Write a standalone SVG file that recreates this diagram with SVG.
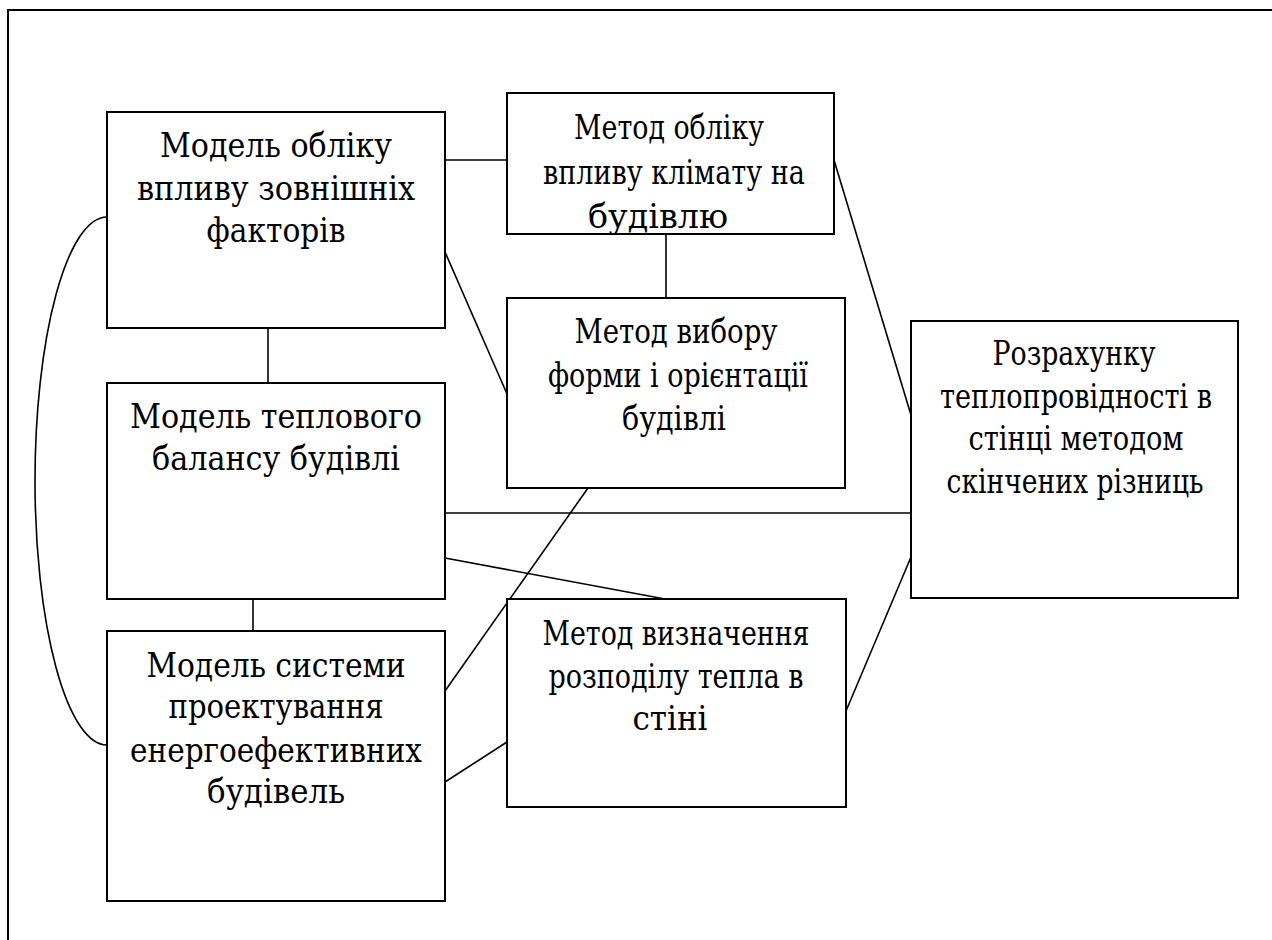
<svg xmlns="http://www.w3.org/2000/svg" width="1272" height="940" viewBox="0 0 1272 940">
  <style>
    .box { fill: #ffffff; stroke: #000000; stroke-width: 2; }
    .frame { fill: none; stroke: #000000; stroke-width: 2; }
    .link { fill: none; stroke: #000000; stroke-width: 1.6; }
    .label { font-family: 'DejaVu Serif Condensed', 'DejaVu Serif', serif; font-stretch: condensed; font-size: 33px; fill: #000000; text-anchor: middle; }
  </style>
  <defs>
    <clipPath id="clip-climate">
      <rect x="508" y="94" width="325" height="139"/>
    </clipPath>
  </defs>
  <rect width="1272" height="940" fill="#ffffff"/>
  <!-- outer frame, runs off the right and bottom edges -->
  <rect class="frame" x="8" y="10" width="1300" height="1000"/>

  <g id="connectors">
    <line class="link" x1="445" y1="160" x2="507" y2="160"/>
    <line class="link" x1="666" y1="234" x2="666" y2="298"/>
    <line class="link" x1="445" y1="252" x2="507" y2="394"/>
    <line class="link" x1="834" y1="160" x2="911" y2="415"/>
    <line class="link" x1="268" y1="328" x2="268" y2="383"/>
    <line class="link" x1="253" y1="599" x2="253" y2="631"/>
    <line class="link" x1="445" y1="513" x2="911" y2="513"/>
    <line class="link" x1="445" y1="558" x2="665" y2="599"/>
    <line class="link" x1="588" y1="488" x2="445" y2="691"/>
    <line class="link" x1="445" y1="782" x2="507" y2="742"/>
    <line class="link" x1="911" y1="557" x2="846" y2="711"/>
    <path class="link" d="M107,217 A72,264 0 0 0 107,745"/>
  </g>

  <g id="external-factors-model">
    <rect class="box" x="107" y="112" width="338" height="216"/>
    <text class="label" x="276" y="157" textLength="232" lengthAdjust="spacingAndGlyphs">Модель обліку</text>
    <text class="label" x="276" y="199.5" textLength="278" lengthAdjust="spacingAndGlyphs">впливу зовнішніх</text>
    <text class="label" x="276" y="242" textLength="139" lengthAdjust="spacingAndGlyphs">факторів</text>
  </g>

  <g id="climate-method">
    <rect class="box" x="507" y="93" width="327" height="141"/>
    <g clip-path="url(#clip-climate)">
      <text class="label" x="669" y="139" textLength="190" lengthAdjust="spacingAndGlyphs">Метод обліку</text>
      <text class="label" x="674" y="184" textLength="262" lengthAdjust="spacingAndGlyphs">впливу клімату на</text>
      <text class="label" x="658" y="228" textLength="140" lengthAdjust="spacingAndGlyphs">будівлю</text>
    </g>
  </g>

  <g id="shape-orientation-method">
    <rect class="box" x="507" y="298" width="338" height="190"/>
    <text class="label" x="676" y="343" textLength="203" lengthAdjust="spacingAndGlyphs">Метод вибору</text>
    <text class="label" x="678" y="387" textLength="260" lengthAdjust="spacingAndGlyphs">форми і орієнтації</text>
    <text class="label" x="674" y="430" textLength="104" lengthAdjust="spacingAndGlyphs">будівлі</text>
  </g>

  <g id="finite-difference-calc">
    <rect class="box" x="911" y="321" width="327" height="277"/>
    <text class="label" x="1074" y="365" textLength="163" lengthAdjust="spacingAndGlyphs">Розрахунку</text>
    <text class="label" x="1076" y="408" textLength="272" lengthAdjust="spacingAndGlyphs">теплопровідності в</text>
    <text class="label" x="1076" y="450" textLength="215" lengthAdjust="spacingAndGlyphs">стінці методом</text>
    <text class="label" x="1075" y="493" textLength="257" lengthAdjust="spacingAndGlyphs">скінчених різниць</text>
  </g>

  <g id="heat-balance-model">
    <rect class="box" x="107" y="383" width="338" height="216"/>
    <text class="label" x="276" y="428" textLength="292" lengthAdjust="spacingAndGlyphs">Модель теплового</text>
    <text class="label" x="276" y="470" textLength="248" lengthAdjust="spacingAndGlyphs">балансу будівлі</text>
  </g>

  <g id="design-system-model">
    <rect class="box" x="107" y="631" width="338" height="270"/>
    <text class="label" x="276" y="677" textLength="259" lengthAdjust="spacingAndGlyphs">Модель системи</text>
    <text class="label" x="276" y="718" textLength="215" lengthAdjust="spacingAndGlyphs">проектування</text>
    <text class="label" x="276" y="762" textLength="292" lengthAdjust="spacingAndGlyphs">енергоефективних</text>
    <text class="label" x="276" y="803" textLength="138" lengthAdjust="spacingAndGlyphs">будівель</text>
  </g>

  <g id="wall-heat-method">
    <rect class="box" x="507" y="599" width="339" height="208"/>
    <text class="label" x="676" y="645" textLength="267" lengthAdjust="spacingAndGlyphs">Метод визначення</text>
    <text class="label" x="676" y="688" textLength="255" lengthAdjust="spacingAndGlyphs">розподілу тепла в</text>
    <text class="label" x="670" y="730" textLength="75" lengthAdjust="spacingAndGlyphs">стіні</text>
  </g>
</svg>
